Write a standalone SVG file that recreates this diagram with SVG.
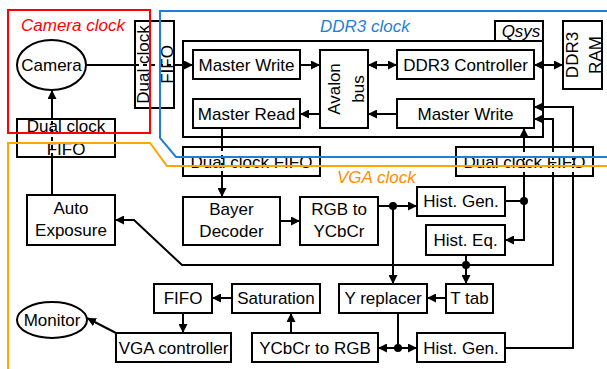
<svg xmlns="http://www.w3.org/2000/svg" width="607" height="369" viewBox="0 0 607 369">
<style>
.b{fill:#fff;stroke:#000;stroke-width:2}
.t{font-family:"Liberation Sans",Arial,sans-serif;font-size:17px;fill:#000;text-anchor:middle}
.c{fill:none;stroke:#000;stroke-width:2}
.d{fill:none;stroke:#000;stroke-width:2;stroke-dasharray:4 4}
.lab{font-family:"Liberation Sans",Arial,sans-serif;font-size:17px;font-style:italic}
</style>
<defs>
<marker id="a" viewBox="0 0 10 10" refX="10" refY="5" markerWidth="9" markerHeight="9" markerUnits="userSpaceOnUse" orient="auto-start-reverse">
<path d="M0,0 L10,5 L0,10 z" fill="#000"/>
</marker>
</defs>
<rect width="607" height="369" fill="#fff"/>

<g id="qsys">
<rect class="b" x="183" y="41" width="360" height="96"/>
<rect class="b" x="495" y="21" width="48" height="20"/>
<text class="lab" x="521" y="37" text-anchor="middle" fill="#000">Qsys</text>
</g>
<g id="camera"><ellipse class="b" cx="51.5" cy="65" rx="34.5" ry="25"/><text class="t" x="51.5" y="71">Camera</text></g>
<g id="fifo-cam"><rect class="b" x="135" y="21" width="39" height="87"/>
<g transform="translate(154.5,64.5) rotate(-90)"><text class="t" x="0" y="-6">Dual clock</text><text class="t" x="0" y="18">FIFO</text></g></g>
<g id="master-write-1"><rect class="b" x="193" y="50" width="107" height="29"/><text class="t" x="246.5" y="71">Master Write</text></g>
<g id="master-read"><rect class="b" x="193" y="99" width="107" height="29"/><text class="t" x="246.5" y="120">Master Read</text></g>
<g id="avalon"><rect class="b" x="320" y="50" width="48" height="78"/>
<g transform="translate(344,89) rotate(-90)"><text class="t" x="0" y="-4">Avalon</text><text class="t" x="0" y="20">bus</text></g></g>
<g id="ddr3-ctrl"><rect class="b" x="397" y="50" width="137" height="29"/><text class="t" x="465.5" y="71">DDR3 Controller</text></g>
<g id="master-write-2"><rect class="b" x="397" y="99" width="137" height="29"/><text class="t" x="465.5" y="120">Master Write</text></g>
<g id="ddr3-ram"><rect class="b" x="563" y="21" width="39" height="68"/>
<g transform="translate(582.5,55) rotate(-90)"><text class="t" x="0" y="-5">DDR3</text><text class="t" x="0" y="18">RAM</text></g></g>
<g id="fifo-ae"><rect class="b" x="17" y="119" width="98" height="38"/><text class="t" x="66" y="132">Dual clock</text><text class="t" x="66" y="155">FIFO</text></g>
<g id="fifo-mid"><rect class="b" x="183" y="147" width="137" height="29"/><text class="t" x="251.5" y="168">Dual clock FIFO</text></g>
<g id="fifo-right"><rect class="b" x="456" y="147" width="137" height="29"/><text class="t" x="524.5" y="168">Dual clock FIFO</text></g>
<g id="auto-exposure"><rect class="b" x="27" y="195" width="88" height="50"/><text class="t" x="71" y="214">Auto</text><text class="t" x="71" y="236">Exposure</text></g>
<g id="bayer"><rect class="b" x="183" y="197" width="97" height="48"/><text class="t" x="231.5" y="215">Bayer</text><text class="t" x="231.5" y="237">Decoder</text></g>
<g id="rgb2ycbcr"><rect class="b" x="300" y="197" width="78" height="48"/><text class="t" x="339" y="215">RGB to</text><text class="t" x="339" y="237">YCbCr</text></g>
<g id="hist-gen-1"><rect class="b" x="417" y="187" width="88" height="29"/><text class="t" x="461" y="207">Hist. Gen.</text></g>
<g id="hist-eq"><rect class="b" x="426" y="225" width="79" height="30"/><text class="t" x="465.5" y="246">Hist. Eq.</text></g>
<g id="y-replacer"><rect class="b" x="339" y="284" width="88" height="29"/><text class="t" x="383" y="304">Y replacer</text></g>
<g id="t-tab"><rect class="b" x="446" y="284" width="47" height="29"/><text class="t" x="469.5" y="304">T tab</text></g>
<g id="hist-gen-2"><rect class="b" x="417" y="333" width="88" height="29"/><text class="t" x="461" y="354">Hist. Gen.</text></g>
<g id="ycbcr2rgb"><rect class="b" x="252" y="333" width="126" height="29"/><text class="t" x="315" y="354">YCbCr to RGB</text></g>
<g id="saturation"><rect class="b" x="232" y="284" width="88" height="29"/><text class="t" x="276" y="304">Saturation</text></g>
<g id="fifo"><rect class="b" x="154" y="284" width="58" height="29"/><text class="t" x="183" y="304">FIFO</text></g>
<g id="vga-ctrl"><rect class="b" x="116" y="333" width="115" height="29"/><text class="t" x="173.5" y="354">VGA controller</text></g>
<g id="monitor"><ellipse class="b" cx="52" cy="320" rx="35" ry="18"/><text class="t" x="52" y="326">Monitor</text></g>

<g id="connectors">
<path class="c" d="M86,65 H135"/><path class="d" d="M135,65 H174"/><path class="c" d="M174,65 H193" marker-end="url(#a)"/>
<path class="c" d="M300,65 H320" marker-end="url(#a)"/>
<path class="c" d="M368,65 H397" marker-start="url(#a)" marker-end="url(#a)"/>
<path class="c" d="M534,65 H563" marker-start="url(#a)" marker-end="url(#a)"/>
<path class="c" d="M397,114 H368" marker-end="url(#a)"/>
<path class="c" d="M320,114 H300" marker-end="url(#a)"/>
<path class="c" d="M222,128 V147"/><path class="d" d="M222,147 V176"/><path class="c" d="M222,176 V197" marker-end="url(#a)"/>
<path class="c" d="M280,221 H300" marker-end="url(#a)"/>
<path class="c" d="M378,206 H417" marker-end="url(#a)"/>
<path class="c" d="M393,206 V284" marker-end="url(#a)"/>
<path class="c" d="M505,201 H524 V176"/><path class="d" d="M524,176 V147"/><path class="c" d="M524,147 V128" marker-end="url(#a)"/>
<path class="c" d="M524,201 V240 H505" marker-end="url(#a)"/>
<path class="c" d="M466,255 V284" marker-end="url(#a)"/>
<path class="c" d="M466,265 H182 L134,220 H115" marker-end="url(#a)"/>
<path class="c" d="M466,265 H553 V176"/><path class="d" d="M553,176 V147"/><path class="c" d="M553,147 V119 H534" marker-end="url(#a)"/>
<path class="c" d="M505,348 H573 V176"/><path class="d" d="M573,176 V147"/><path class="c" d="M573,147 V107 H534" marker-end="url(#a)"/>
<path class="c" d="M446,298 H427" marker-end="url(#a)"/>
<path class="c" d="M398,313 V348"/>
<path class="c" d="M398,348 H378" marker-end="url(#a)"/>
<path class="c" d="M398,348 H417" marker-end="url(#a)"/>
<path class="c" d="M291,333 V313" marker-end="url(#a)"/>
<path class="c" d="M232,298 H212" marker-end="url(#a)"/>
<path class="c" d="M183,313 V333" marker-end="url(#a)"/>
<path class="c" d="M116,333 L87,318" marker-end="url(#a)"/>
<path class="c" d="M52,195 V157"/><path class="d" d="M52,157 V119"/><path class="c" d="M52,119 V90" marker-end="url(#a)"/>
<circle cx="393" cy="206" r="4"/><circle cx="524" cy="201" r="4"/><circle cx="466" cy="265" r="4"/><circle cx="398" cy="348" r="4"/>
</g>

<g id="clock-domains">
<rect x="8" y="10" width="142" height="123" fill="none" stroke="#ff0000" stroke-width="2"/>
<path d="M607,11 H160 V138 L176,157 H607" fill="none" stroke="#1f7fd8" stroke-width="2"/>
<path d="M8,369 V143 H150 L167,166 H607" fill="none" stroke="#ffa500" stroke-width="2"/>
<text class="lab" x="21" y="31" fill="#ff0000">Camera clock</text>
<text class="lab" x="320" y="32" fill="#1f7fd8">DDR3 clock</text>
<text class="lab" x="337" y="183" fill="#ff8c00">VGA clock</text>
</g>
</svg>
